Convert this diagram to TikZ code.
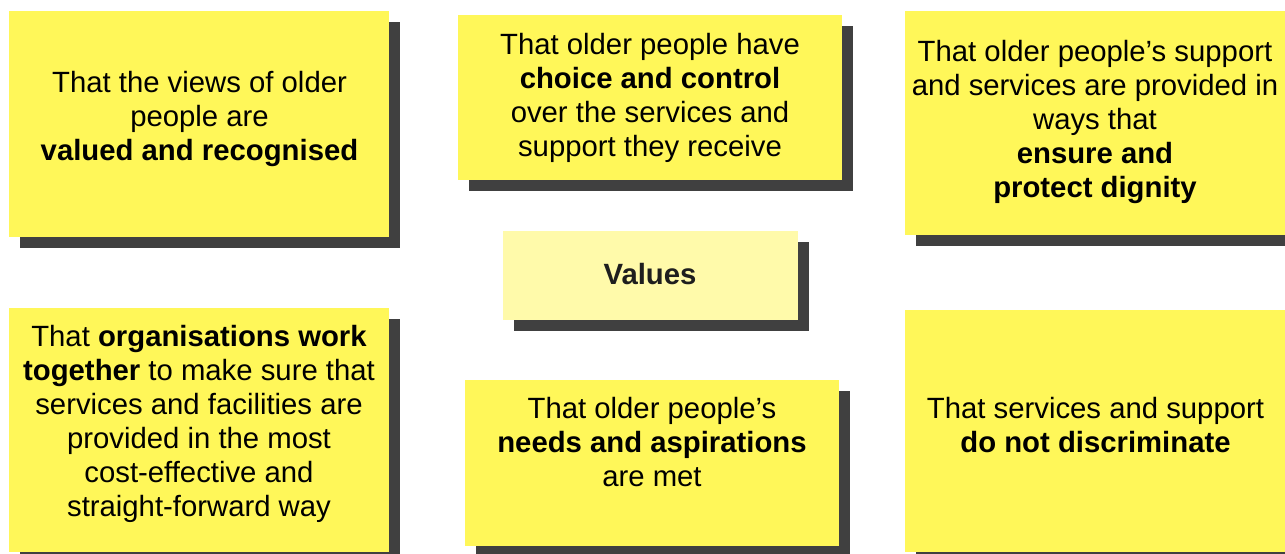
\documentclass[tikz,border=0pt]{standalone}
\usepackage{fontspec}
\setmainfont{Liberation Sans}
\usetikzlibrary{shadows}
\definecolor{cardyellow}{RGB}{255,247,89}
\definecolor{centreyellow}{RGB}{255,250,170}
\definecolor{shadowgrey}{RGB}{64,64,64}
\definecolor{valuesink}{RGB}{30,30,30}

\begin{document}
\begin{tikzpicture}[x=1pt,y=-1pt,
	card/.style={fill=cardyellow,inner sep=0pt,
		drop shadow={shadow xshift=11pt,shadow yshift=-11pt,fill=shadowgrey,opacity=1}},
	txt/.style={align=center,inner sep=0pt,font=\fontsize{29.3}{34}\selectfont}]
			\useasboundingbox (0,0) rectangle (1285,554);
			\clip (0,0) rectangle (1285,554);
			% cards
			\node[card,minimum width=380pt,minimum height=226pt] (views)   at (199,124)    {};
			\node[card,minimum width=384pt,minimum height=165pt] (choice)  at (650,97.5)   {};
			\node[card,minimum width=385pt,minimum height=224pt] (dignity) at (1097.5,123) {};
			\node[card,fill=centreyellow,minimum width=295pt,minimum height=89pt] (values) at (650.5,275.5) {};
			\node[card,minimum width=380pt,minimum height=244pt] (orgs)    at (199,430)    {};
			\node[card,minimum width=374pt,minimum height=166pt] (needs)   at (652,463)    {};
			\node[card,minimum width=385pt,minimum height=242pt] (discrim) at (1097.5,431) {};
			% texts
			\node[txt] (viewsT)   at (199.5,119) {That the views of older\\people are\\\textbf{valued and recognised}};
			\node[txt] (choiceT)  at (650,97.5)  {That older people have\\\textbf{choice and control}\\over the services and\\support they receive};
			\node[txt] (dignityT) at (1095,122)  {That older people’s support\\and services are provided in\\ways that\\\textbf{ensure and}\\\textbf{protect dignity}};
			\node[txt,text=valuesink] (valuesT) at (650,274) {\textbf{Values}};
			\node[txt] (orgsT)    at (199,424)   {That \textbf{organisations work}\\\textbf{together} to make sure that\\services and facilities are\\provided in the most\\cost-effective and\\straight-forward way};
			\node[txt] (needsT)   at (652,442.5) {That older people’s\\\textbf{needs and aspirations}\\are met};
			\node[txt] (discrimT) at (1095.5,425.5) {That services and support\\\textbf{do not discriminate}};
\end{tikzpicture}
\end{document}
